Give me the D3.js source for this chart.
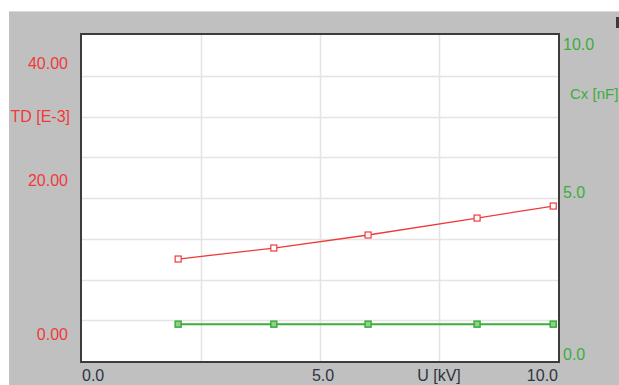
<!DOCTYPE html>
<html>
<head>
<meta charset="utf-8">
<script src="https://cdn.jsdelivr.net/npm/d3@7"></script>
<style>
  body { margin: 0; background: #fff; }
  text { font-family: Arial, "Liberation Sans", sans-serif; font-size: 16px; }
</style>
</head>
<body>
<div id="chart"></div>
<script>
// measured points (voltage in kV)
var voltage = [2.02, 4.03, 6.01, 8.3, 9.9];
var tdValues = [9.74, 11.17, 12.86, 15.06, 16.62]; // TD [E-3]
var cxValues = [1.13, 1.13, 1.13, 1.13, 1.13]; // Cx [nF]

var xTicks = [0, 5, 10];
var xTickLabels = ["0.0", "5.0", "10.0"];
var tdTicks = [0, 20, 40];
var tdTickLabels = ["0.00", "20.00", "40.00"];
var cxTicks = [0, 5, 10];
var cxTickLabels = ["0.0", "5.0", "10.0"];
var gridX = [2.5, 5, 7.5];
var gridCx = [1.25, 2.5, 3.75, 5, 6.25, 7.5, 8.75];

var W = 619, H = 385;
var plot = { left: 82, top: 35, right: 558, bottom: 361 };
var red = "#f03a3a", green = "#3dad3d", axisGrey = "#2e3442";

var svg = d3
  .select("#chart")
  .append("svg")
  .attr("width", W)
  .attr("height", H);

// grey panel behind the plot
svg.append("rect")
  .attr("x", 9).attr("y", 11)
  .attr("width", W - 9).attr("height", H - 11)
  .style("fill", "#c0c0c0");
svg.append("line")
  .attr("x1", 9).attr("x2", W).attr("y1", 11.5).attr("y2", 11.5)
  .style("stroke", "#d8d8d8");
svg.append("rect")
  .attr("x", 616).attr("y", 17).attr("width", 3).attr("height", 11)
  .style("fill", "#3a3a3a");

var x = d3.scaleLinear().domain([0, 10]).range([plot.left, plot.right]);
var yTD = d3.scaleLinear().domain([-3.5, 38.83]).range([plot.bottom, plot.top]);
var yCx = d3.scaleLinear().domain([0, 10]).range([plot.bottom, plot.top]);

// plot area
svg.append("rect")
  .attr("x", plot.left - 1).attr("y", plot.top - 1)
  .attr("width", plot.right - plot.left + 2)
  .attr("height", plot.bottom - plot.top + 2)
  .style("fill", "#fff")
  .style("stroke", "#3c3c3c")
  .style("stroke-width", 2);

// grid
svg.selectAll(".gx")
  .data(gridX)
  .enter()
  .append("line")
  .attr("x1", function (d) { return Math.round(x(d)) + 0.5; })
  .attr("x2", function (d) { return Math.round(x(d)) + 0.5; })
  .attr("y1", plot.top)
  .attr("y2", plot.bottom)
  .style("stroke", "#e4e4e4")
  .style("stroke-width", 1.5);
svg.selectAll(".gy")
  .data(gridCx)
  .enter()
  .append("line")
  .attr("x1", plot.left)
  .attr("x2", plot.right)
  .attr("y1", function (d) { return Math.round(yCx(d)) + 0.5; })
  .attr("y2", function (d) { return Math.round(yCx(d)) + 0.5; })
  .style("stroke", "#e4e4e4")
  .style("stroke-width", 1.5);

// x axis labels (end labels aligned inward)
svg.selectAll(".xl")
  .data(xTicks)
  .enter()
  .append("text")
  .attr("x", function (d, i) { return x(d) + (i === 1 ? 3 : 0); })
  .attr("y", 381)
  .attr("text-anchor", function (d, i) {
    return i === 0 ? "start" : i === xTicks.length - 1 ? "end" : "middle";
  })
  .style("fill", axisGrey)
  .text(function (d, i) { return xTickLabels[i]; });
svg.append("text")
  .attr("x", x(7.5))
  .attr("y", 381)
  .attr("text-anchor", "middle")
  .style("fill", axisGrey)
  .text("U [kV]");

// left axis (TD)
svg.selectAll(".tdl")
  .data(tdTicks)
  .enter()
  .append("text")
  .attr("x", 68)
  .attr("y", function (d) {
    return Math.min(Math.max(yTD(d) + 6, plot.top + 34), plot.bottom);
  })
  .attr("text-anchor", "end")
  .style("fill", red)
  .text(function (d, i) { return tdTickLabels[i]; });
svg.append("text")
  .attr("x", 70).attr("y", 122)
  .attr("text-anchor", "end")
  .style("fill", red)
  .text("TD [E-3]");

// right axis (Cx)
svg.selectAll(".cxl")
  .data(cxTicks)
  .enter()
  .append("text")
  .attr("x", 563)
  .attr("y", function (d) {
    return Math.min(Math.max(yCx(d), plot.top + 15), plot.bottom - 1);
  })
  .style("fill", green)
  .text(function (d, i) { return cxTickLabels[i]; });
svg.append("text")
  .attr("x", 570).attr("y", 99)
  .style("fill", green)
  .style("font-size", "15px")
  .text("Cx [nF]");

// series
var lineTD = d3.line()
  .x(function (d, i) { return x(voltage[i]); })
  .y(function (d) { return yTD(d); });
var lineCx = d3.line()
  .x(function (d, i) { return x(voltage[i]); })
  .y(function (d) { return yCx(d); });

svg.append("path")
  .attr("d", lineCx(cxValues))
  .style("fill", "none")
  .style("stroke", green)
  .style("stroke-width", 2);
svg.selectAll(".mcx")
  .data(cxValues)
  .enter()
  .append("rect")
  .attr("x", function (d, i) { return x(voltage[i]) - 3; })
  .attr("y", function (d) { return yCx(d) - 3; })
  .attr("width", 6).attr("height", 6)
  .style("fill", "#8fd08f")
  .style("stroke", green)
  .style("stroke-width", 1.5);

svg.append("path")
  .attr("d", lineTD(tdValues))
  .style("fill", "none")
  .style("stroke", red)
  .style("stroke-width", 1.3);
svg.selectAll(".mtd")
  .data(tdValues)
  .enter()
  .append("rect")
  .attr("x", function (d, i) { return x(voltage[i]) - 3; })
  .attr("y", function (d) { return yTD(d) - 3; })
  .attr("width", 6).attr("height", 6)
  .style("fill", "#fff")
  .style("stroke", red)
  .style("stroke-width", 1.2);
</script>
</body>
</html>
